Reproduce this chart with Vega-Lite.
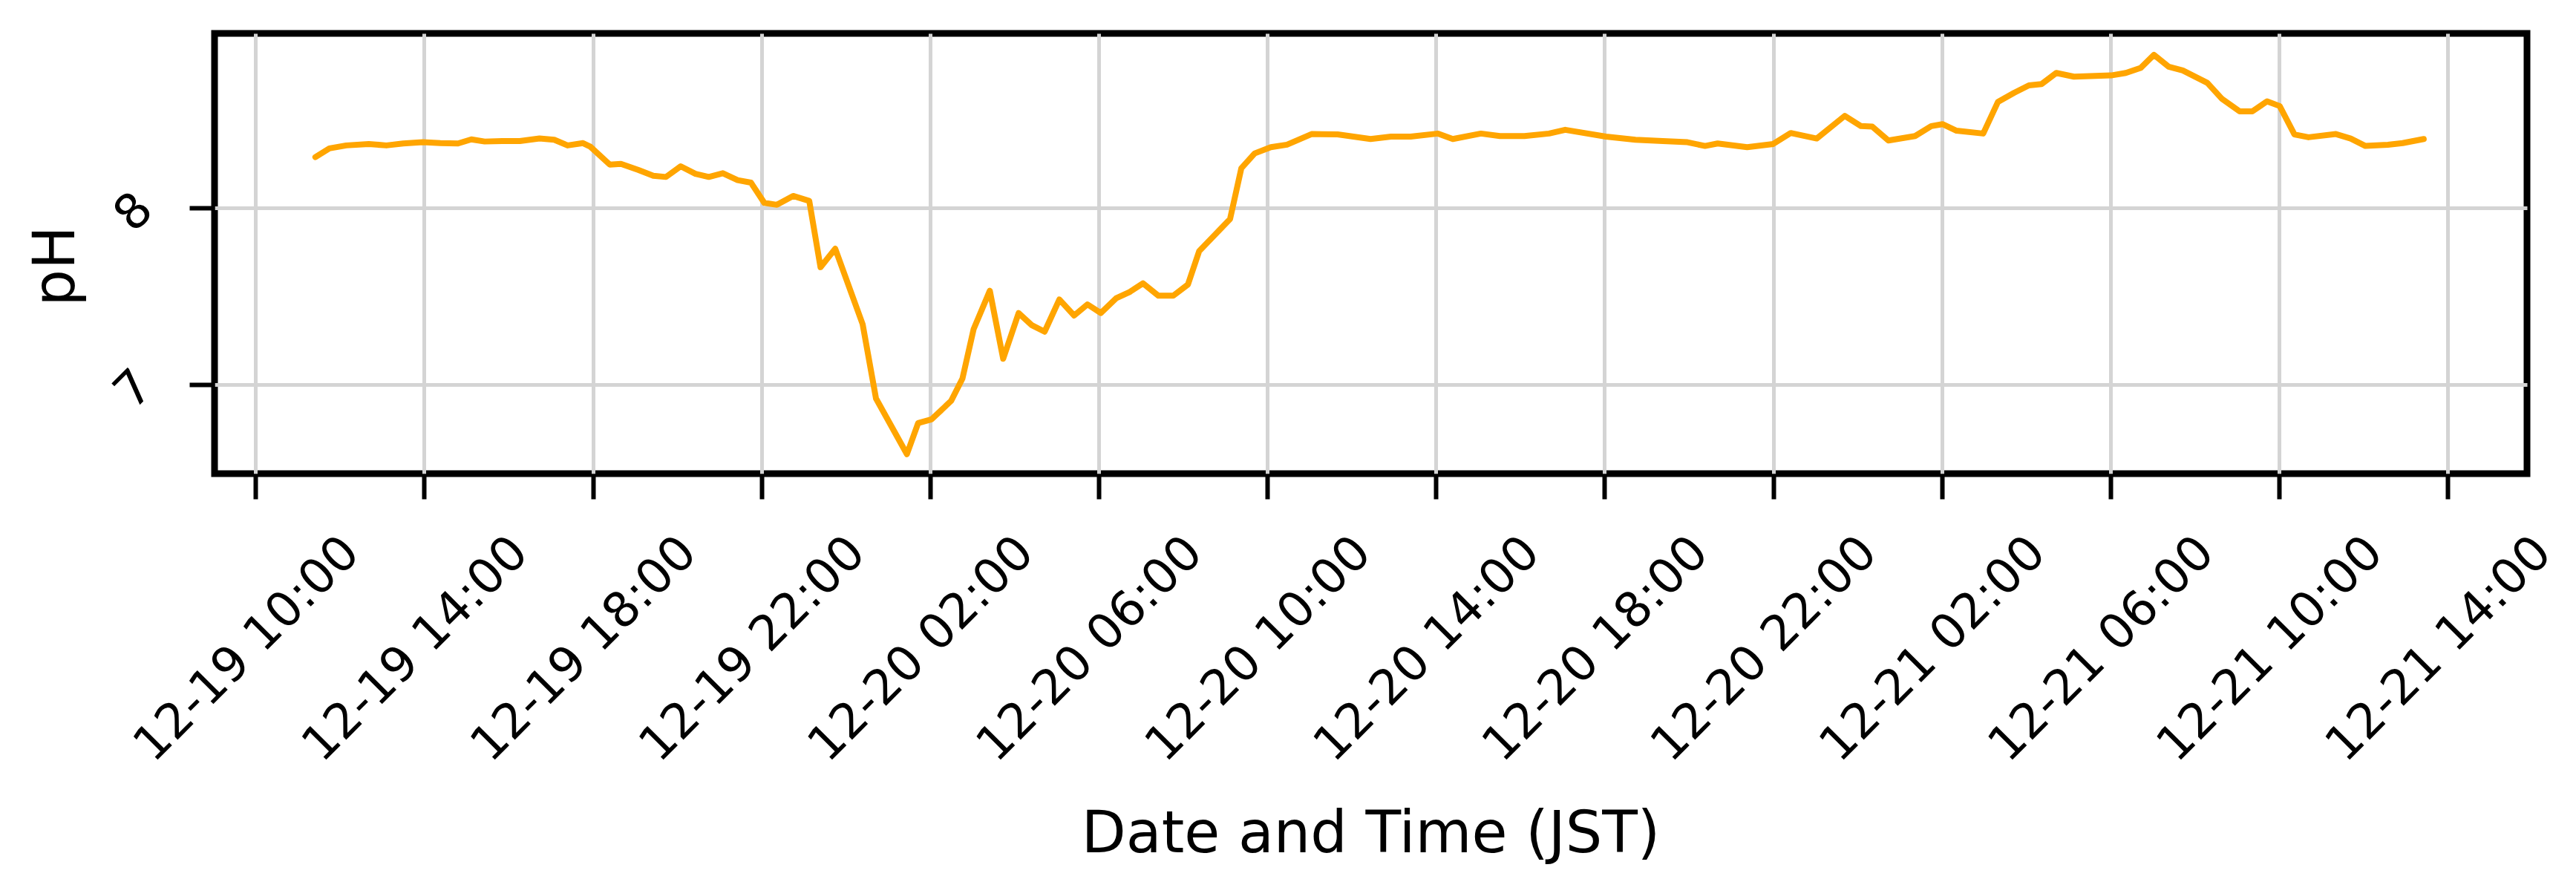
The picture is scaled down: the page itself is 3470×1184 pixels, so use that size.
{
  "$schema": "https://vega.github.io/schema/vega-lite/v6.json",
  "autosize": "none",
  "width": 3115,
  "height": 593,
  "padding": {"left": 289, "top": 45, "right": 66, "bottom": 546},
  "background": "white",
  "data": {
    "values": [
      {"t": "2023-12-19T11:25:00Z", "pH": 8.285},
      {"t": "2023-12-19T11:45:00Z", "pH": 8.334},
      {"t": "2023-12-19T12:09:00Z", "pH": 8.351},
      {"t": "2023-12-19T12:41:00Z", "pH": 8.359},
      {"t": "2023-12-19T13:06:00Z", "pH": 8.351},
      {"t": "2023-12-19T13:30:00Z", "pH": 8.362},
      {"t": "2023-12-19T13:58:00Z", "pH": 8.369},
      {"t": "2023-12-19T14:23:00Z", "pH": 8.364},
      {"t": "2023-12-19T14:48:00Z", "pH": 8.362},
      {"t": "2023-12-19T15:07:00Z", "pH": 8.385},
      {"t": "2023-12-19T15:26:00Z", "pH": 8.373},
      {"t": "2023-12-19T15:51:00Z", "pH": 8.376},
      {"t": "2023-12-19T16:16:00Z", "pH": 8.376},
      {"t": "2023-12-19T16:44:00Z", "pH": 8.390},
      {"t": "2023-12-19T17:05:00Z", "pH": 8.383},
      {"t": "2023-12-19T17:24:00Z", "pH": 8.351},
      {"t": "2023-12-19T17:46:00Z", "pH": 8.364},
      {"t": "2023-12-19T17:56:00Z", "pH": 8.345},
      {"t": "2023-12-19T18:24:00Z", "pH": 8.243},
      {"t": "2023-12-19T18:40:00Z", "pH": 8.247},
      {"t": "2023-12-19T19:05:00Z", "pH": 8.212},
      {"t": "2023-12-19T19:26:00Z", "pH": 8.180},
      {"t": "2023-12-19T19:44:00Z", "pH": 8.173},
      {"t": "2023-12-19T20:05:00Z", "pH": 8.233},
      {"t": "2023-12-19T20:26:00Z", "pH": 8.191},
      {"t": "2023-12-19T20:45:00Z", "pH": 8.173},
      {"t": "2023-12-19T21:05:00Z", "pH": 8.194},
      {"t": "2023-12-19T21:26:00Z", "pH": 8.155},
      {"t": "2023-12-19T21:45:00Z", "pH": 8.141},
      {"t": "2023-12-19T22:04:00Z", "pH": 8.027},
      {"t": "2023-12-19T22:22:00Z", "pH": 8.016},
      {"t": "2023-12-19T22:45:00Z", "pH": 8.066},
      {"t": "2023-12-19T23:08:00Z", "pH": 8.038},
      {"t": "2023-12-19T23:24:00Z", "pH": 7.664},
      {"t": "2023-12-19T23:45:00Z", "pH": 7.768},
      {"t": "2023-12-20T00:24:00Z", "pH": 7.342},
      {"t": "2023-12-20T00:43:00Z", "pH": 6.923},
      {"t": "2023-12-20T01:27:00Z", "pH": 6.609},
      {"t": "2023-12-20T01:43:00Z", "pH": 6.784},
      {"t": "2023-12-20T02:02:00Z", "pH": 6.805},
      {"t": "2023-12-20T02:30:00Z", "pH": 6.910},
      {"t": "2023-12-20T02:46:00Z", "pH": 7.035},
      {"t": "2023-12-20T03:02:00Z", "pH": 7.315},
      {"t": "2023-12-20T03:25:00Z", "pH": 7.531},
      {"t": "2023-12-20T03:44:00Z", "pH": 7.147},
      {"t": "2023-12-20T04:06:00Z", "pH": 7.405},
      {"t": "2023-12-20T04:25:00Z", "pH": 7.336},
      {"t": "2023-12-20T04:43:00Z", "pH": 7.300},
      {"t": "2023-12-20T05:04:00Z", "pH": 7.482},
      {"t": "2023-12-20T05:25:00Z", "pH": 7.391},
      {"t": "2023-12-20T05:44:00Z", "pH": 7.454},
      {"t": "2023-12-20T06:03:00Z", "pH": 7.405},
      {"t": "2023-12-20T06:25:00Z", "pH": 7.489},
      {"t": "2023-12-20T06:44:00Z", "pH": 7.524},
      {"t": "2023-12-20T07:03:00Z", "pH": 7.573},
      {"t": "2023-12-20T07:25:00Z", "pH": 7.503},
      {"t": "2023-12-20T07:46:00Z", "pH": 7.503},
      {"t": "2023-12-20T08:07:00Z", "pH": 7.566},
      {"t": "2023-12-20T08:23:00Z", "pH": 7.755},
      {"t": "2023-12-20T09:07:00Z", "pH": 7.936},
      {"t": "2023-12-20T09:23:00Z", "pH": 8.222},
      {"t": "2023-12-20T09:42:00Z", "pH": 8.306},
      {"t": "2023-12-20T10:05:00Z", "pH": 8.341},
      {"t": "2023-12-20T10:28:00Z", "pH": 8.355},
      {"t": "2023-12-20T11:03:00Z", "pH": 8.415},
      {"t": "2023-12-20T11:40:00Z", "pH": 8.413},
      {"t": "2023-12-20T12:27:00Z", "pH": 8.387},
      {"t": "2023-12-20T12:56:00Z", "pH": 8.401},
      {"t": "2023-12-20T13:24:00Z", "pH": 8.401},
      {"t": "2023-12-20T14:03:00Z", "pH": 8.418},
      {"t": "2023-12-20T14:24:00Z", "pH": 8.387},
      {"t": "2023-12-20T15:04:00Z", "pH": 8.418},
      {"t": "2023-12-20T15:31:00Z", "pH": 8.404},
      {"t": "2023-12-20T16:06:00Z", "pH": 8.404},
      {"t": "2023-12-20T16:41:00Z", "pH": 8.418},
      {"t": "2023-12-20T17:04:00Z", "pH": 8.439},
      {"t": "2023-12-20T18:02:00Z", "pH": 8.401},
      {"t": "2023-12-20T18:44:00Z", "pH": 8.383},
      {"t": "2023-12-20T19:23:00Z", "pH": 8.376},
      {"t": "2023-12-20T19:58:00Z", "pH": 8.369},
      {"t": "2023-12-20T20:23:00Z", "pH": 8.348},
      {"t": "2023-12-20T20:41:00Z", "pH": 8.362},
      {"t": "2023-12-20T21:23:00Z", "pH": 8.341},
      {"t": "2023-12-20T22:00:00Z", "pH": 8.359},
      {"t": "2023-12-20T22:25:00Z", "pH": 8.421},
      {"t": "2023-12-20T23:02:00Z", "pH": 8.390},
      {"t": "2023-12-20T23:42:00Z", "pH": 8.518},
      {"t": "2023-12-21T00:05:00Z", "pH": 8.460},
      {"t": "2023-12-21T00:21:00Z", "pH": 8.457},
      {"t": "2023-12-21T00:44:00Z", "pH": 8.379},
      {"t": "2023-12-21T01:22:00Z", "pH": 8.404},
      {"t": "2023-12-21T01:45:00Z", "pH": 8.460},
      {"t": "2023-12-21T02:01:00Z", "pH": 8.471},
      {"t": "2023-12-21T02:21:00Z", "pH": 8.434},
      {"t": "2023-12-21T02:59:00Z", "pH": 8.418},
      {"t": "2023-12-21T03:20:00Z", "pH": 8.597},
      {"t": "2023-12-21T03:43:00Z", "pH": 8.648},
      {"t": "2023-12-21T04:04:00Z", "pH": 8.690},
      {"t": "2023-12-21T04:22:00Z", "pH": 8.697},
      {"t": "2023-12-21T04:43:00Z", "pH": 8.760},
      {"t": "2023-12-21T05:08:00Z", "pH": 8.739},
      {"t": "2023-12-21T06:01:00Z", "pH": 8.746},
      {"t": "2023-12-21T06:22:00Z", "pH": 8.760},
      {"t": "2023-12-21T06:43:00Z", "pH": 8.788},
      {"t": "2023-12-21T07:02:00Z", "pH": 8.862},
      {"t": "2023-12-21T07:23:00Z", "pH": 8.795},
      {"t": "2023-12-21T07:43:00Z", "pH": 8.774},
      {"t": "2023-12-21T08:18:00Z", "pH": 8.704},
      {"t": "2023-12-21T08:39:00Z", "pH": 8.613},
      {"t": "2023-12-21T09:04:00Z", "pH": 8.543},
      {"t": "2023-12-21T09:22:00Z", "pH": 8.543},
      {"t": "2023-12-21T09:43:00Z", "pH": 8.600},
      {"t": "2023-12-21T10:01:00Z", "pH": 8.573},
      {"t": "2023-12-21T10:22:00Z", "pH": 8.413},
      {"t": "2023-12-21T10:42:00Z", "pH": 8.397},
      {"t": "2023-12-21T11:21:00Z", "pH": 8.415},
      {"t": "2023-12-21T11:42:00Z", "pH": 8.390},
      {"t": "2023-12-21T12:03:00Z", "pH": 8.348},
      {"t": "2023-12-21T12:35:00Z", "pH": 8.355},
      {"t": "2023-12-21T12:56:00Z", "pH": 8.364},
      {"t": "2023-12-21T13:26:00Z", "pH": 8.387}
    ]
  },
  "mark": {"type": "line", "color": "#FFA500", "strokeWidth": 8, "strokeJoin": "round", "strokeCap": "round", "clip": true},
  "encoding": {
    "x": {
      "field": "t",
      "type": "temporal",
      "scale": {
        "type": "utc",
        "domain": [
          {"year": 2023, "month": 12, "date": 19, "hours": 9, "minutes": 1, "seconds": 30, "utc": true},
          {"year": 2023, "month": 12, "date": 21, "hours": 15, "minutes": 53, "seconds": 0, "utc": true}
        ]
      },
      "axis": {
        "title": "Date and Time (JST)",
        "format": "%m-%d %H:%M",
        "values": [
          {"year": 2023, "month": 12, "date": 19, "hours": 10, "utc": true},
          {"year": 2023, "month": 12, "date": 19, "hours": 14, "utc": true},
          {"year": 2023, "month": 12, "date": 19, "hours": 18, "utc": true},
          {"year": 2023, "month": 12, "date": 19, "hours": 22, "utc": true},
          {"year": 2023, "month": 12, "date": 20, "hours": 2, "utc": true},
          {"year": 2023, "month": 12, "date": 20, "hours": 6, "utc": true},
          {"year": 2023, "month": 12, "date": 20, "hours": 10, "utc": true},
          {"year": 2023, "month": 12, "date": 20, "hours": 14, "utc": true},
          {"year": 2023, "month": 12, "date": 20, "hours": 18, "utc": true},
          {"year": 2023, "month": 12, "date": 20, "hours": 22, "utc": true},
          {"year": 2023, "month": 12, "date": 21, "hours": 2, "utc": true},
          {"year": 2023, "month": 12, "date": 21, "hours": 6, "utc": true},
          {"year": 2023, "month": 12, "date": 21, "hours": 10, "utc": true},
          {"year": 2023, "month": 12, "date": 21, "hours": 14, "utc": true}
        ],
        "labelAngle": -45,
        "labelAlign": "center",
        "labelBaseline": "middle",
        "labelPadding": 202,
        "labelOffset": -12,
        "labelOverlap": false,
        "labelFlush": false,
        "labelLimit": 0,
        "titleX": 1557,
        "titleY": 509,
        "titleAlign": "center",
        "titleBaseline": "alphabetic"
      }
    },
    "y": {
      "field": "pH",
      "type": "quantitative",
      "scale": {"domain": [6.499, 8.983], "nice": false, "zero": false},
      "axis": {
        "title": "pH",
        "values": [7, 8],
        "format": "d",
        "labelAngle": -45,
        "labelAlign": "center",
        "labelBaseline": "middle",
        "labelPadding": 75,
        "labelOffset": 6,
        "labelLimit": 0,
        "titleAngle": -90,
        "titleX": -190,
        "titleY": 313,
        "titleAlign": "center",
        "titleBaseline": "alphabetic"
      }
    }
  },
  "config": {
    "view": {"stroke": "black", "strokeWidth": 9},
    "axis": {
      "domain": false,
      "grid": true,
      "gridColor": "#d4d4d4",
      "gridWidth": 5,
      "ticks": true,
      "tickColor": "black",
      "tickWidth": 6,
      "tickSize": 34,
      "labelFont": "DejaVu Sans",
      "labelFontSize": 65,
      "labelColor": "black",
      "titleFont": "DejaVu Sans",
      "titleFontSize": 78,
      "titleFontWeight": "normal",
      "titleColor": "black"
    }
  }
}
